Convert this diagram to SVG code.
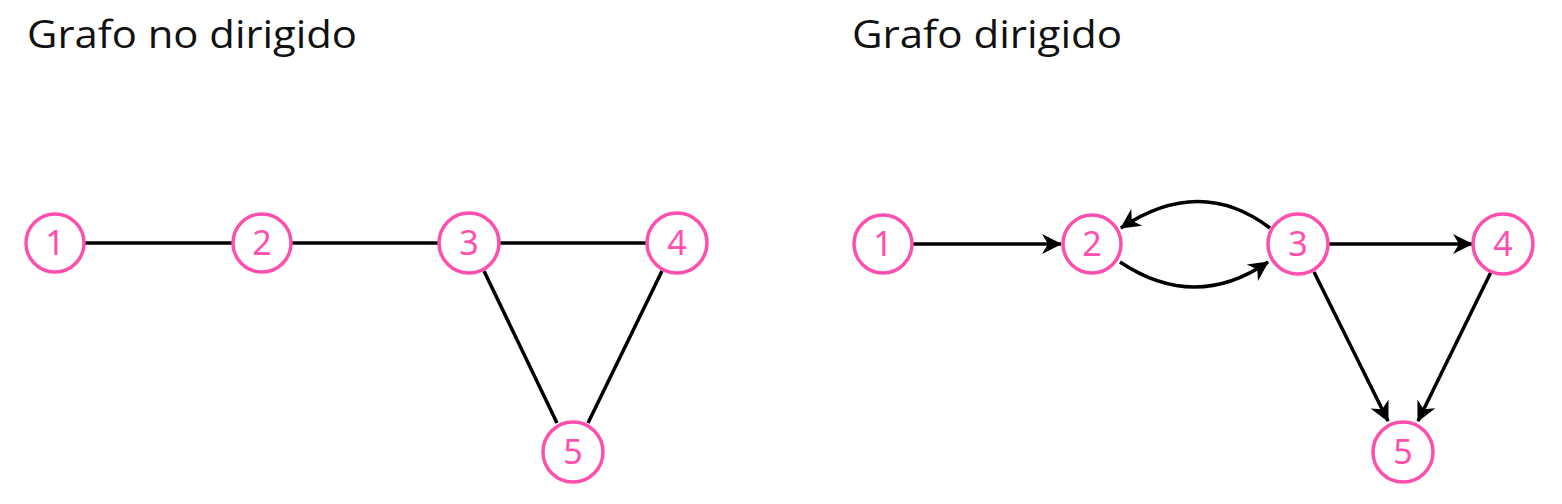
<svg xmlns="http://www.w3.org/2000/svg" width="1562" height="504" viewBox="0 0 1562 504">
<style>
.title{font-family:"Open Sans","Noto Sans",sans-serif;font-size:38px;fill:#111}
.node circle{fill:#fff;stroke:#ff4fae;stroke-width:3.5}
.node text{font-family:"Noto Sans","Open Sans",sans-serif;font-size:34px;fill:#ff4fae;text-anchor:middle}
.edge{stroke:#000;stroke-width:3.5;fill:none}
</style>
<defs>
<marker id="arr" viewBox="0 0 24 24" refX="21" refY="12" markerWidth="24" markerHeight="24" markerUnits="userSpaceOnUse" orient="auto">
<path d="M2,2 L22,12 L2,22 L8,12 Z" fill="#000"/>
</marker>
</defs>
<text class="title" x="27" y="48" textLength="330" lengthAdjust="spacingAndGlyphs">Grafo no dirigido</text>
<text class="title" x="852" y="48" textLength="270" lengthAdjust="spacingAndGlyphs">Grafo dirigido</text>
<g id="connectors">
<line class="edge" x1="84" y1="243" x2="233" y2="243"/>
<line class="edge" x1="291" y1="243" x2="439" y2="243"/>
<line class="edge" x1="498" y1="243" x2="647" y2="243"/>
<line class="edge" x1="484" y1="271" x2="557" y2="423"/>
<line class="edge" x1="662" y1="271" x2="588" y2="423"/>
<line class="edge" x1="913" y1="244" x2="1061" y2="244" marker-end="url(#arr)"/>
<path class="edge" d="M1270,228 Q1200,175 1121,228" marker-end="url(#arr)"/>
<path class="edge" d="M1120,262 Q1195,312 1268,262" marker-end="url(#arr)"/>
<line class="edge" x1="1328" y1="244" x2="1472" y2="244" marker-end="url(#arr)"/>
<line class="edge" x1="1314" y1="272" x2="1388" y2="421" marker-end="url(#arr)"/>
<line class="edge" x1="1491" y1="272" x2="1418" y2="421" marker-end="url(#arr)"/>
</g>
<g id="n1L" class="node"><circle cx="55" cy="243" r="29"/><text x="55" y="255">1</text></g>
<g id="n2L" class="node"><circle cx="262" cy="243" r="29"/><text x="262" y="255">2</text></g>
<g id="n3L" class="node"><circle cx="469" cy="243" r="30"/><text x="469" y="255">3</text></g>
<g id="n4L" class="node"><circle cx="677" cy="243" r="30"/><text x="677" y="255">4</text></g>
<g id="n5L" class="node"><circle cx="573" cy="452" r="30"/><text x="573" y="464">5</text></g>
<g id="n1R" class="node"><circle cx="883" cy="244" r="29"/><text x="883" y="256">1</text></g>
<g id="n2R" class="node"><circle cx="1092" cy="244" r="29"/><text x="1092" y="256">2</text></g>
<g id="n3R" class="node"><circle cx="1298" cy="244" r="30"/><text x="1298" y="256">3</text></g>
<g id="n4R" class="node"><circle cx="1503" cy="244" r="30"/><text x="1503" y="256">4</text></g>
<g id="n5R" class="node"><circle cx="1403" cy="452" r="30"/><text x="1403" y="464">5</text></g>
</svg>
